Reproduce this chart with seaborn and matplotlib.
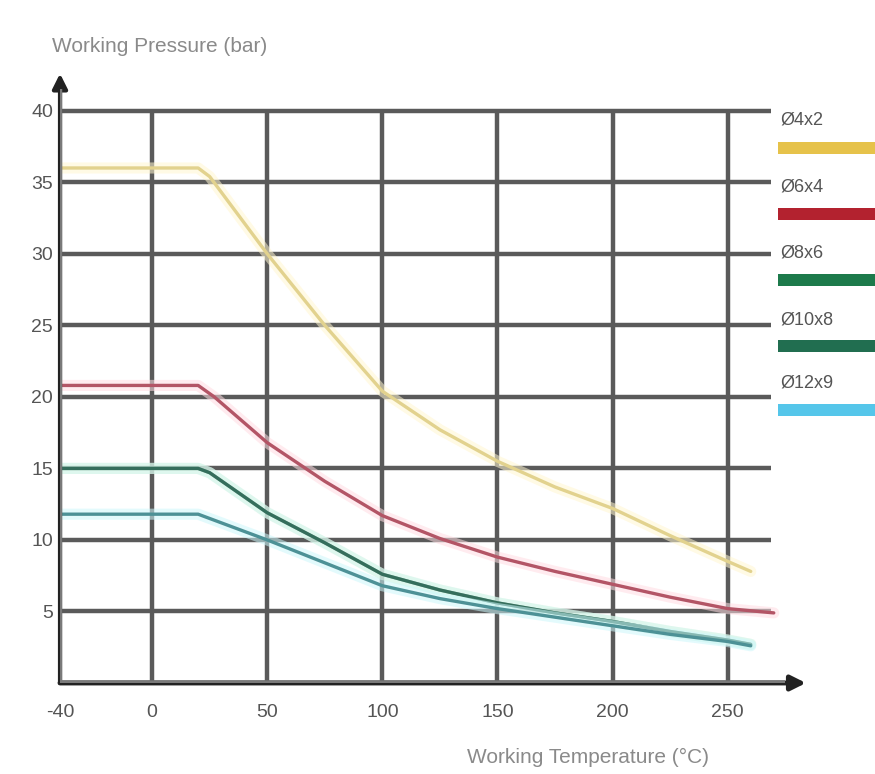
import matplotlib
matplotlib.use("Agg")
import matplotlib.pyplot as plt
import matplotlib.patheffects as pe
from matplotlib.patches import Rectangle
import seaborn as sns
import pandas as pd

sns.set_theme(style="white")
plt.rcParams['font.family'] = ['Liberation Sans Narrow', 'Liberation Sans', 'DejaVu Sans']

# ---- data ----
series_names = ["Ø4x2", "Ø6x4", "Ø8x6", "Ø10x8", "Ø12x9"]
temp_std = [-40, 20, 25, 50, 75, 100, 125, 150, 175, 200, 225, 250, 260]
temp_red = [-40, 20, 27, 50, 75, 100, 125, 150, 175, 200, 225, 250, 270]
p_4x2 = [36, 36, 35.4, 30.0, 25.0, 20.4, 17.7, 15.5, 13.7, 12.2, 10.3, 8.5, 7.8]
p_6x4 = [20.8, 20.8, 20.0, 16.8, 14.1, 11.7, 10.1, 8.8, 7.8, 6.9, 6.0, 5.2, 4.9]
p_8x6 = [15, 15, 14.7, 11.9, 9.8, 7.6, 6.5, 5.6, 4.9, 4.3, 3.6, 3.0, 2.7]
p_10x8 = [15, 15, 14.7, 11.9, 9.8, 7.6, 6.5, 5.6, 4.9, 4.3, 3.6, 3.0, 2.7]
p_12x9 = [11.8, 11.8, 11.5, 10.0, 8.4, 6.8, 5.9, 5.2, 4.6, 4.0, 3.4, 2.9, 2.6]
x_ticks = [-40, 0, 50, 100, 150, 200, 250]
y_ticks = [5, 10, 15, 20, 25, 30, 35, 40]

line_colors = {"Ø4x2": "#e2d28e", "Ø6x4": "#b35566", "Ø8x6": "#3d7a62",
               "Ø10x8": "#356e5c", "Ø12x9": "#4d9196"}
glow_colors = {"Ø4x2": "#fff6d0", "Ø6x4": "#ffdce2", "Ø8x6": "#d6f6ea",
               "Ø10x8": "#d6f6ea", "Ø12x9": "#ccf7fb"}
legend_colors = ["#e6c24a", "#b3222f", "#1d7a4b", "#216e50", "#55c6ea"]

rows = []
for name, temps, vals in [("Ø4x2", temp_std, p_4x2), ("Ø6x4", temp_red, p_6x4),
                          ("Ø8x6", temp_std, p_8x6), ("Ø10x8", temp_std, p_10x8),
                          ("Ø12x9", temp_std, p_12x9)]:
    for t, v in zip(temps, vals):
        rows.append({"series": name, "temp": t, "pressure": v})
df = pd.DataFrame(rows)

fig = plt.figure(figsize=(8.75, 7.74), dpi=100)
ax = fig.add_axes([60 / 875, 1 - 683 / 774, 746 / 875, 608 / 774])
ax.set_xlim(-40, 284)
ax.set_ylim(0, 42.5)

grid_c = "#5a5a5a"
ax.vlines(x_ticks[1:], 0, 40, colors=grid_c, lw=3.2, zorder=1)
ax.hlines(y_ticks, -40, 269, colors=grid_c, lw=3.2, zorder=1)

sns.lineplot(data=df, x="temp", y="pressure", hue="series", palette=line_colors,
             hue_order=series_names, sort=False, estimator=None, lw=2.4,
             legend=False, ax=ax, zorder=3)
for line, name in zip(ax.get_lines(), series_names):
    line.set_solid_joinstyle("round")
    line.set_path_effects([pe.Stroke(linewidth=8, foreground=glow_colors[name], alpha=0.55),
                           pe.Normal()])

# axes with arrows
axis_c = "#7a7a7a"
ax.annotate("", xy=(-40, 42.6), xytext=(-40, 0), xycoords="data",
            arrowprops=dict(arrowstyle="-|>", color="#222222", lw=3, mutation_scale=22,
                            shrinkA=0, shrinkB=0), zorder=4, annotation_clip=False)
ax.annotate("", xy=(284, 0), xytext=(-40, 0), xycoords="data",
            arrowprops=dict(arrowstyle="-|>", color="#222222", lw=3.5, mutation_scale=22,
                            shrinkA=0, shrinkB=0), zorder=4, annotation_clip=False)
ax.plot([-40, -40], [0, 41.5], color=axis_c, lw=3.2, zorder=4, solid_capstyle="butt")
ax.plot([-40, 275], [0, 0], color=axis_c, lw=4.0, zorder=4, solid_capstyle="butt")

for s in ax.spines.values():
    s.set_visible(False)
ax.set_xticks(x_ticks)
ax.set_yticks(y_ticks)
ax.set_xticklabels([str(v) for v in x_ticks])
ax.set_yticklabels([str(v) for v in y_ticks])
ax.tick_params(axis="both", length=0, labelsize=14, labelcolor="#555555")
ax.tick_params(axis="x", pad=15)
ax.tick_params(axis="y", pad=5)
ax.set_xlabel("")
ax.set_ylabel("")

fig.text(160 / 875, 1 - 47 / 774, "Working Pressure (bar)", ha="center", va="center",
         fontsize=15, color="#8a8a8a")
fig.text(588 / 875, 1 - 757 / 774, "Working Temperature (°C)", ha="center", va="center",
         fontsize=15, color="#8a8a8a")

# legend: label above a colour bar, on the right edge
label_y = [120, 187, 253, 320, 383]
bar_y = [148, 214, 280, 346, 410]
for name, col, ly, by in zip(series_names, legend_colors, label_y, bar_y):
    fig.text(780 / 875, 1 - ly / 774, name, ha="left", va="center", fontsize=13,
             color="#555555")
    fig.add_artist(Rectangle((778 / 875, 1 - (by + 6) / 774), 100 / 875, 12 / 774,
                             transform=fig.transFigure, color=col, lw=0))

fig.savefig("out.png", dpi=100, facecolor="white")
